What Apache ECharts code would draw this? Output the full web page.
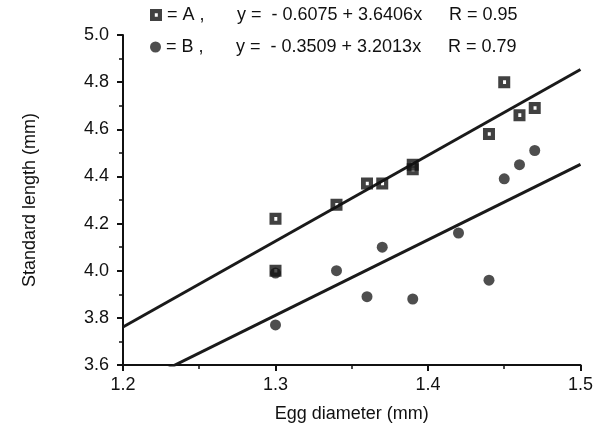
<!DOCTYPE html>
<html>
<head>
<meta charset="utf-8">
<script src="https://cdn.jsdelivr.net/npm/echarts@6/dist/echarts.min.js"></script>
<style>
  html, body { margin: 0; padding: 0; background: #fff; }
  #chart { width: 596px; height: 436px; }
</style>
</head>
<body>
<div id="chart"></div>
<script>
// group A (squares)
var xA = [1.30, 1.30, 1.34, 1.36, 1.37, 1.39, 1.39, 1.44, 1.45, 1.46, 1.47];
var yA = [4.22, 4.00, 4.28, 4.37, 4.37, 4.45, 4.43, 4.58, 4.80, 4.66, 4.69];
// group B (dots)
var xB = [1.30, 1.30, 1.34, 1.36, 1.37, 1.39, 1.42, 1.44, 1.45, 1.46, 1.47];
var yB = [3.99, 3.77, 4.00, 3.89, 4.10, 3.88, 4.16, 3.96, 4.39, 4.45, 4.51];
// regression y = a + b x
var fitA = [-0.6075, 3.6406];
var fitB = [-0.3509, 3.2013];
var lineX = [1.2, 1.5];

var sqIcon = 'path://M0,0H10V10H0Z M4,3.5V6.5H6.5V3.5Z';
var font = 'Liberation Sans, Arial, sans-serif';

function pairs(xs, ys) {
  return xs.map(function (x, i) { return [x, ys[i]]; });
}
function fitLine(f) {
  return lineX.map(function (x) { return [x, f[0] + f[1] * x]; });
}

var chart = echarts.init(document.getElementById('chart'), null, { renderer: 'canvas' });

var legendRich = {
  a: { width: 70, fontSize: 18, fontFamily: font, color: '#111' },
  e: { width: 212, fontSize: 18, fontFamily: font, color: '#111' },
  r: { fontSize: 18, fontFamily: font, color: '#111' }
};

option = {
  animation: false,
  backgroundColor: '#fff',
  grid: { left: 123, right: 15, top: 35, bottom: 71 },
  legend: [
    {
      data: ['A'], left: 145, top: 1, itemWidth: 12, itemHeight: 12,
      formatter: '{a|= A ,}{e|y =  - 0.6075 + 3.6406x}{r|R = 0.95}',
      textStyle: { fontSize: 18, rich: legendRich }
    },
    {
      data: ['B'], left: 145, top: 33, itemWidth: 11, itemHeight: 11,
      formatter: '{a|= B ,}{e|y =  - 0.3509 + 3.2013x}{r|R = 0.79}',
      textStyle: { fontSize: 18, rich: legendRich }
    }
  ],
  xAxis: {
    type: 'value', min: 1.2, max: 1.5, interval: 0.1,
    name: 'Egg diameter (mm)', nameLocation: 'middle', nameGap: 40,
    nameTextStyle: { fontSize: 18, fontFamily: font, color: '#111' },
    axisLine: { lineStyle: { color: '#111', width: 2 } },
    axisTick: { length: 6, lineStyle: { width: 2, color: '#111' } },
    minorTick: { show: true, splitNumber: 2, length: 4, lineStyle: { color: '#111', width: 1.5 } },
    splitLine: { show: false },
    axisLabel: {
      margin: 11, fontSize: 18, fontFamily: font, color: '#111',
      formatter: function (v) { return v.toFixed(1); }
    }
  },
  yAxis: {
    type: 'value', min: 3.6, max: 5.0, interval: 0.2,
    name: 'Standard length (mm)', nameLocation: 'middle', nameGap: 84,
    nameTextStyle: { fontSize: 18, fontFamily: font, color: '#111' },
    axisLine: { lineStyle: { color: '#111', width: 2 } },
    axisTick: { length: 6, lineStyle: { width: 2, color: '#111' } },
    minorTick: { show: true, splitNumber: 2, length: 4, lineStyle: { color: '#111', width: 1.5 } },
    splitLine: { show: false },
    axisLabel: {
      margin: 14, fontSize: 18, fontFamily: font, color: '#111',
      formatter: function (v) { return v.toFixed(1); }
    }
  },
  series: [
    {
      name: 'A', type: 'scatter', data: pairs(xA, yA),
      symbol: sqIcon, symbolSize: 12, z: 5,
      itemStyle: { color: '#111' }
    },
    {
      name: 'B', type: 'scatter', data: pairs(xB, yB),
      symbol: 'circle', symbolSize: 11, z: 4,
      itemStyle: { color: '#222' }
    },
    {
      name: 'fitA', type: 'line', data: fitLine(fitA), showSymbol: false,
      lineStyle: { color: '#1a1a1a', width: 3 }, clip: true, z: 3
    },
    {
      name: 'fitB', type: 'line', data: fitLine(fitB), showSymbol: false,
      lineStyle: { color: '#1a1a1a', width: 3 }, clip: true, z: 3
    }
  ]
};

chart.setOption(option);
</script>
</body>
</html>
